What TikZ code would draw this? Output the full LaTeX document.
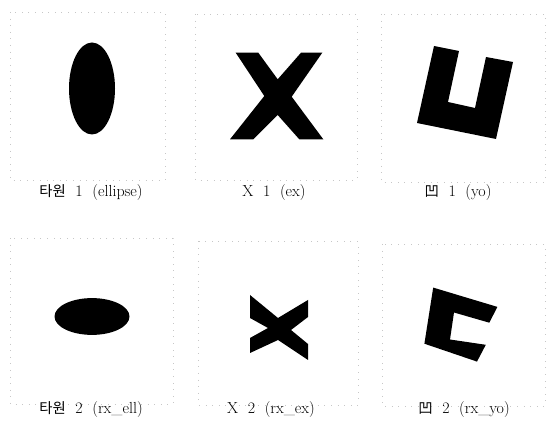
\documentclass[tikz,border=0pt]{standalone}
\usepackage{fontspec}
\newfontfamily\krfont{Noto Sans CJK KR}[Scale=0.9]
\newcommand{\gapsp}{\hspace{0.6em}}
\tikzset{
  shapefill/.style={fill=black, draw=none},
  panelframe/.style={draw=black!22, line width=0.4pt, dash pattern=on 0.6pt off 6pt},
  caption/.style={font=\fontsize{16}{19}\selectfont, anchor=center, inner sep=0pt}
}
\begin{document}
\begin{tikzpicture}[x=1pt,y=-1pt]
\useasboundingbox (0,0) rectangle (550,430);
% faint panel frames
\draw[panelframe] (10,12) rectangle (165,180);
\draw[panelframe] (195,14) rectangle (357,180);
\draw[panelframe] (381,14) rectangle (545,182);
\draw[panelframe] (10,238) rectangle (173,404);
\draw[panelframe] (198,241) rectangle (358,405);
\draw[panelframe] (382,244) rectangle (545,406);
% ellipse 1
\fill[shapefill] (92,88.5) ellipse [x radius=23, y radius=46];
% X 1
\fill[shapefill] (235.7,52.7) -- (258.3,52.7) -- (277.7,79.3) -- (301,52.7) -- (322.3,52.7)
  -- (291.7,96.7) -- (323.3,139.3) -- (299.3,139.3) -- (277.7,115) -- (253.3,139.3)
  -- (230,139.3) -- (264.3,96) -- cycle;
% yo 1
\fill[shapefill] (434,46) -- (459,51) -- (448,102) -- (475,108) -- (486,57) -- (513,62)
  -- (496,139) -- (417,123) -- cycle;
% ellipse 2
\fill[shapefill] (92,316.5) ellipse [x radius=37.5, y radius=18.4];
% X 2
\fill[shapefill] (250,295) -- (278,318) -- (308,300) -- (308,317) -- (291,330) -- (308,344)
  -- (308,360) -- (278,340) -- (250,353) -- (250,338) -- (268,328) -- (250,318) -- cycle;
% yo 2
\fill[shapefill] (433.2,287.6) -- (497.4,306.9) -- (489.3,322.7) -- (454,312.5)
  -- (450,339.5) -- (485.8,344.8) -- (477,361.6) -- (424.4,343.7) -- cycle;
% captions
\node[caption] (c1) at (91,193) {{\krfont 타원}\gapsp 1\gapsp (ellipse)};
\node[caption] (c2) at (274,193) {X\gapsp 1\gapsp (ex)};
\node[caption] (c3) at (458,193) {{\krfont 凹}\gapsp 1\gapsp (yo)};
\node[caption] (c4) at (91,410) {{\krfont 타원}\gapsp 2\gapsp (rx\_ell)};
\node[caption] (c5) at (271,410) {X\gapsp 2\gapsp (rx\_ex)};
\node[caption] (c6) at (464,410) {{\krfont 凹}\gapsp 2\gapsp (rx\_yo)};
\end{tikzpicture}
\end{document}
